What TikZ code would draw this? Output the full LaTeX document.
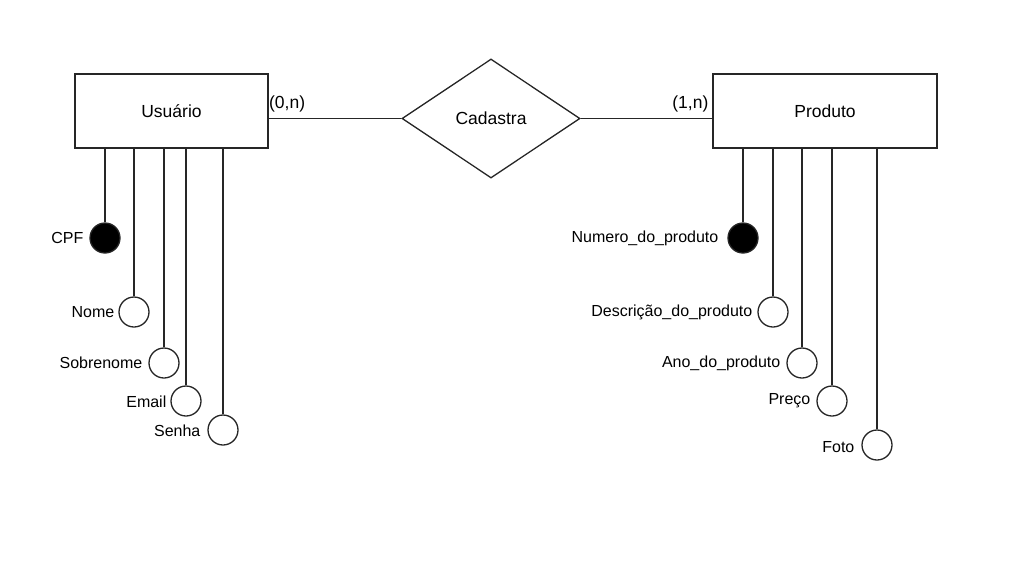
\documentclass[tikz,border=0pt]{standalone}
\usepackage{fontspec}
\setmainfont{Liberation Sans}
\usetikzlibrary{shapes.geometric}

\begin{document}
\begin{tikzpicture}[x=1pt, y=-1pt,
	entity/.style={rectangle, draw=black!85, line width=1.3pt, fill=white, minimum height=74pt, font=\fontsize{17.5}{21}\selectfont},
	rel/.style={diamond, draw=black!85, line width=1.3pt, fill=white, inner sep=0pt, minimum width=178pt, minimum height=119pt, font=\fontsize{17.5}{21}\selectfont},
	attr/.style={circle, draw=black!85, line width=1.3pt, fill=white, inner sep=0pt, minimum size=30pt},
	key/.style={attr, fill=black},
	txt/.style={inner sep=0pt, anchor=east, font=\fontsize{16}{19}\selectfont},
	card/.style={inner sep=0pt, font=\fontsize{17.5}{21}\selectfont},
	every path/.style={draw=black!85, line width=1.3pt}]
			\useasboundingbox[draw=none] (0,0) rectangle (1016,568);
			
			\node[entity, minimum width=193pt] (usuario) at (171.5,111){Usuário};
			\node[entity, minimum width=224pt] (produto) at (825,111){Produto};
			\node[rel] (cadastra) at (491,118.5){Cadastra};
			
			\node[card, anchor=west] (card1) at (268.5,104){(0,n)};
			\node[card, anchor=east] (card2) at (709,104){(1,n)};
			
			% atributos de Usuario
			\node[key] (cpf) at (105,238){};
			\node[attr] (nome) at (134,312){};
			\node[attr] (sobrenome) at (164,363){};
			\node[attr] (email) at (186,401){};
			\node[attr] (senha) at (223,430){};
			
			\node[txt] (tcpf) at (84,238){CPF};
			\node[txt] (tnome) at (115,312){Nome};
			\node[txt] (tsobrenome) at (143,363){Sobrenome};
			\node[txt] (temail) at (167,402){Email};
			\node[txt] (tsenha) at (201,431){Senha};
			
			% atributos de Produto
			\node[key] (numero) at (743,238){};
			\node[attr] (descricao) at (773,312){};
			\node[attr] (ano) at (802,363){};
			\node[attr] (preco) at (832,401){};
			\node[attr] (foto) at (877,445){};
			
			\node[txt] (tnumero) at (719,238){Numero\_do\_produto};
			\node[txt] (tdescricao) at (753,312){Descrição\_do\_produto};
			\node[txt] (tano) at (781,363){Ano\_do\_produto};
			\node[txt] (tpreco) at (811,401){Preço};
			\node[txt] (tfoto) at (855,447){Foto};
			
			\path (cadastra.west) edge (cadastra.west -| usuario.east);
			\path (cadastra.east) edge (cadastra.east -| produto.west);
			
			\foreach \a in {cpf, nome, sobrenome, email, senha}
				\path (\a.north) edge (\a.north |- usuario.south);
			\foreach \a in {numero, descricao, ano, preco, foto}
				\path (\a.north) edge (\a.north |- produto.south);
			\end{tikzpicture}
\end{document}
